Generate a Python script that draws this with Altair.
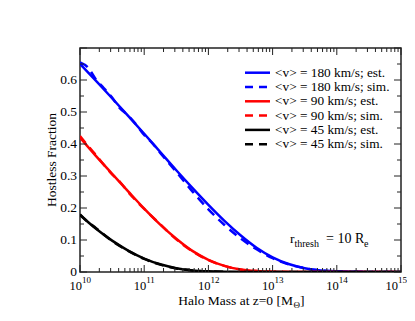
import altair as alt
import pandas as pd

W, H = 321, 224
FONT = "Liberation Serif"
AX = "#222222"

# ---- data (log10 halo mass, hostless fraction) ----
blue_est_logm = [10.0, 10.25, 10.5, 10.75, 11.0, 11.25, 11.5, 11.75, 12.0, 12.25, 12.5, 12.75, 13.0, 13.25, 13.5, 13.75, 14.0, 14.5, 15.0]
blue_est_val = [0.650, 0.597, 0.543, 0.488, 0.432, 0.375, 0.318, 0.263, 0.210, 0.160, 0.115, 0.076, 0.046, 0.025, 0.012, 0.005, 0.002, 0.0003, 0.0]

blue_sim_logm = [10.0, 10.12, 10.25, 10.37, 10.5, 10.62, 10.75, 10.87, 11.0, 11.12, 11.25, 11.5, 11.75, 12.0, 12.25, 12.5, 12.75, 13.0, 13.25, 13.5, 13.75, 14.0, 14.5, 15.0]
blue_sim_val = [0.655, 0.640, 0.601, 0.575, 0.545, 0.512, 0.489, 0.462, 0.428, 0.404, 0.372, 0.313, 0.252, 0.196, 0.147, 0.105, 0.071, 0.043, 0.024, 0.012, 0.005, 0.002, 0.0003, 0.0]

red_est_logm = [10.0, 10.25, 10.5, 10.75, 11.0, 11.25, 11.5, 11.75, 12.0, 12.25, 12.5, 12.75, 13.0, 13.5, 15.0]
red_est_val = [0.420, 0.362, 0.307, 0.252, 0.198, 0.148, 0.104, 0.066, 0.038, 0.019, 0.008, 0.003, 0.001, 0.0, 0.0]

red_sim_logm = [10.0, 10.1, 10.25, 10.5, 10.62, 10.75, 11.0, 11.25, 11.5, 11.75, 12.0, 12.25, 12.5, 12.75, 13.0, 13.5, 15.0]
red_sim_val = [0.425, 0.400, 0.365, 0.305, 0.282, 0.250, 0.197, 0.149, 0.102, 0.065, 0.037, 0.019, 0.008, 0.003, 0.001, 0.0, 0.0]

black_est_logm = [10.0, 10.25, 10.5, 10.75, 11.0, 11.25, 11.5, 11.75, 12.0, 12.5, 15.0]
black_est_val = [0.178, 0.135, 0.098, 0.067, 0.042, 0.024, 0.012, 0.005, 0.002, 0.0, 0.0]

black_sim_logm = [10.0, 10.12, 10.25, 10.5, 10.75, 11.0, 11.25, 11.5, 11.75, 12.0, 12.5, 15.0]
black_sim_val = [0.180, 0.157, 0.137, 0.097, 0.066, 0.041, 0.023, 0.011, 0.005, 0.002, 0.0, 0.0]

legend_labels = ["<v> = 180 km/s; est.", "<v> = 180 km/s; sim.",
                 "<v> = 90 km/s; est.", "<v> = 90 km/s; sim.",
                 "<v> = 45 km/s; est.", "<v> = 45 km/s; sim."]
legend_colors = ["#0000ff", "#0000ff", "#ff0000", "#ff0000", "#000000", "#000000"]
legend_dashed = [False, True, False, True, False, True]

x_exponents = [10, 11, 12, 13, 14, 15]
y_tick_values = [0, 0.1, 0.2, 0.3, 0.4, 0.5, 0.6]
y_tick_labels = ["0", "0.1", "0.2", "0.3", "0.4", "0.5", "0.6"]

DASH = [9, 6]

xs = alt.Scale(type="log", domain=[1e10, 1e15])
ys = alt.Scale(domain=[0, 0.7])

series = [
    (blue_est_logm, blue_est_val, "#0000ff", False),
    (blue_sim_logm, blue_sim_val, "#0000ff", True),
    (red_est_logm, red_est_val, "#ff0000", False),
    (red_sim_logm, red_sim_val, "#ff0000", True),
    (black_est_logm, black_est_val, "#000000", False),
    (black_sim_logm, black_sim_val, "#000000", True),
]

layers = []
for lm, vals, col, dashed in series:
    df = pd.DataFrame({"M": [10.0 ** v for v in lm], "f": vals})
    kw = dict(color=col, strokeWidth=2.5, interpolate="monotone", clip=True)
    if dashed:
        kw["strokeDash"] = DASH
    layers.append(
        alt.Chart(df).mark_line(**kw).encode(
            x=alt.X("M:Q", scale=xs, axis=None),
            y=alt.Y("f:Q", scale=ys, axis=None),
        )
    )

# ---- ticks (inward, all four sides) ----
x_major = pd.DataFrame({"M": [10.0 ** e for e in x_exponents]})
x_minor = pd.DataFrame({"M": [k * 10.0 ** e for e in x_exponents[:-1] for k in range(2, 10)]})
y_major = pd.DataFrame({"v": [0, 0.1, 0.2, 0.3, 0.4, 0.5, 0.6, 0.7]})
y_minor = pd.DataFrame({"v": [0.05, 0.15, 0.25, 0.35, 0.45, 0.55, 0.65]})

for df, ln in [(x_major, 7), (x_minor, 4)]:
    for y0, y1 in [(H, H - ln), (0, ln)]:
        layers.append(
            alt.Chart(df).mark_rule(color=AX, strokeWidth=1).encode(
                x=alt.X("M:Q", scale=xs, axis=None),
                y=alt.value(y0), y2=alt.value(y1),
            )
        )
for df, ln in [(y_major, 7), (y_minor, 4)]:
    for x0, x1 in [(0, ln), (W, W - ln)]:
        layers.append(
            alt.Chart(df).mark_rule(color=AX, strokeWidth=1).encode(
                y=alt.Y("v:Q", scale=ys, axis=None),
                x=alt.value(x0), x2=alt.value(x1),
            )
        )

# ---- tick labels ----
xl = pd.DataFrame({"M": [10.0 ** e for e in x_exponents],
                   "base": ["10"] * len(x_exponents),
                   "exp": [str(e) for e in x_exponents]})
xl_in = xl.iloc[:-1]
xl_last = xl.iloc[-1:]
for df, shift in [(xl_in, 0), (xl_last, -5)]:
    layers.append(
        alt.Chart(df).mark_text(align="right", baseline="alphabetic", dx=2 + shift, font=FONT, fontSize=12.5, color="black").encode(
            x=alt.X("M:Q", scale=xs, axis=None), y=alt.value(H + 18), text="base:N"))
    layers.append(
        alt.Chart(df).mark_text(align="left", baseline="alphabetic", dx=2 + shift, font=FONT, fontSize=9, color="black").encode(
            x=alt.X("M:Q", scale=xs, axis=None), y=alt.value(H + 11), text="exp:N"))

yl = pd.DataFrame({"v": y_tick_values, "t": y_tick_labels})
layers.append(
    alt.Chart(yl).mark_text(align="right", baseline="middle", font=FONT, fontSize=13.5, color="black").encode(
        y=alt.Y("v:Q", scale=ys, axis=None), x=alt.value(-3), text="t:N"))

one = pd.DataFrame({"a": [0]})

def txt(s, x, y, size=13, align="left", angle=0, baseline="alphabetic"):
    kw = dict(align=align, baseline=baseline, font=FONT, fontSize=size, color="black")
    if angle:
        kw["angle"] = angle
    return alt.Chart(one).mark_text(**kw).encode(
        x=alt.value(x), y=alt.value(y), text=alt.value(s))

# axis titles
layers.append(txt("Hostless Fraction", -28, H / 2, size=13.5, align="center", angle=270, baseline="middle"))
layers.append(txt("Halo Mass at z=0 [M", 213, H + 32.5, size=13.5, align="right"))
layers.append(txt("Θ", 213.5, H + 35.5, size=9))
layers.append(txt("]", 220, H + 32.5, size=13.5))

# annotation r_thresh = 10 R_e
layers.append(txt("r", 210, 195, size=13.5))
layers.append(txt("thresh", 214.5, 199, size=10))
layers.append(txt("= 10 R", 246, 195, size=14))
layers.append(txt("e", 284, 199, size=10))

# legend
for i, (lab, col, dashed) in enumerate(zip(legend_labels, legend_colors, legend_dashed)):
    yy = 24.7 + i * 14.3
    kw = dict(color=col, strokeWidth=2.5)
    if dashed:
        kw["strokeDash"] = [8, 6]
    layers.append(alt.Chart(one).mark_rule(**kw).encode(
        x=alt.value(165), x2=alt.value(190), y=alt.value(yy)))
    layers.append(txt(lab, 195, yy, size=13.3, baseline="middle"))

chart = alt.layer(*layers).properties(
    width=W, height=H,
    autosize=alt.AutoSizeParams(type="none"),
    padding={"left": 72, "top": 40, "right": 6, "bottom": 41},
    background="white",
).configure_view(stroke=AX, strokeWidth=1.5)

chart.save("out.html", embed_options={"renderer": "svg", "actions": False})
